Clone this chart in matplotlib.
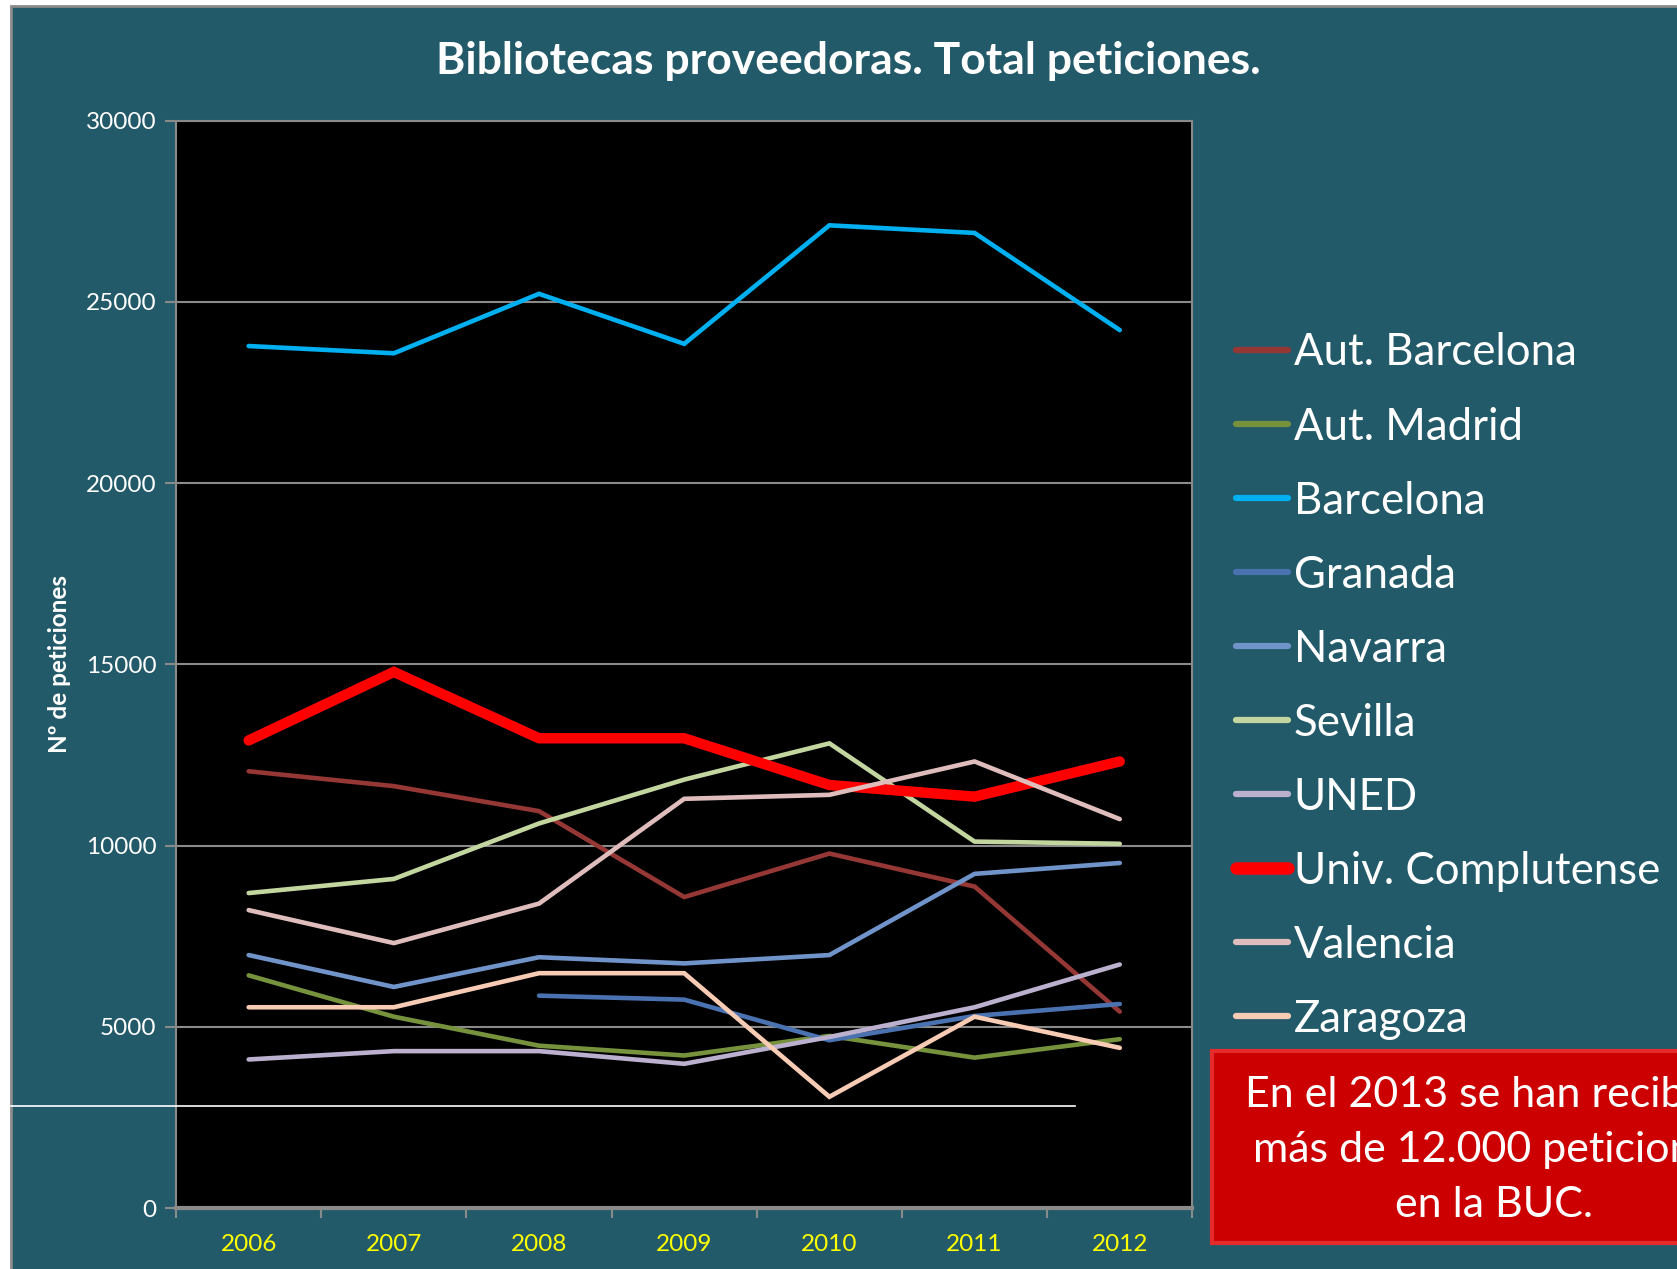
import matplotlib.pyplot as plt
import numpy as np
from matplotlib.patches import Rectangle
from matplotlib.lines import Line2D

plt.rcParams["font.family"] = ["Lato", "DejaVu Sans"]

TEAL = "#235A69"

years = ["2006", "2007", "2008", "2009", "2010", "2011", "2012"]

aut_barcelona = [12050, 11640, 10950, 8580, 9780, 8870, 5420]
aut_madrid = [6420, 5280, 4480, 4210, 4750, 4150, 4660]
barcelona = [23780, 23580, 25220, 23840, 27110, 26900, 24220]
granada = [np.nan, np.nan, 5860, 5750, 4630, 5300, 5630]
navarra = [6980, 6100, 6920, 6750, 6980, 9220, 9520]
sevilla = [8690, 9080, 10610, 11820, 12820, 10110, 10050]
uned = [4100, 4330, 4330, 3980, 4720, 5540, 6720]
complutense = [12900, 14790, 12960, 12960, 11670, 11350, 12320]
valencia = [8220, 7310, 8400, 11290, 11400, 12320, 10730]
zaragoza = [5540, 5540, 6480, 6480, 3070, 5280, 4420]

labels = ["Aut. Barcelona", "Aut. Madrid", "Barcelona", "Granada", "Navarra",
          "Sevilla", "UNED", "Univ. Complutense", "Valencia", "Zaragoza"]
series = [aut_barcelona, aut_madrid, barcelona, granada, navarra,
          sevilla, uned, complutense, valencia, zaragoza]
colors = ["#953735", "#76923C", "#00B0F0", "#4A72B0", "#7093C9",
          "#C4D6A0", "#BCB0CF", "#FF0000", "#E0BDBD", "#F8CBB4"]
widths = [3.3, 3.3, 3.3, 3.3, 3.3, 3.3, 3.3, 7.5, 3.3, 3.3]

fig = plt.figure(figsize=(16.77, 12.69), dpi=100, facecolor="white")

# slide panel behind the chart
fig.patches.append(Rectangle((0.0066, -0.01), 1.0, 1.0053, transform=fig.transFigure,
                             facecolor=TEAL, edgecolor="#8A8A8A", linewidth=2, zorder=-1))

ax = fig.add_axes([0.105, 0.048, 0.606, 0.857])
ax.set_facecolor("black")

x = np.arange(len(years))
for vals, lab, col, lw in zip(series, labels, colors, widths):
    ax.plot(x, vals, color=col, linewidth=lw, solid_capstyle="round",
            solid_joinstyle="miter", label=lab)

ax.set_xlim(-0.5, 6.5)
ax.set_ylim(0, 30000)
ax.set_yticks(np.arange(0, 30001, 5000))
ax.yaxis.grid(True, color="#8A8A8A", linewidth=1.5)
ax.set_axisbelow(True)

ax.set_xticks(np.arange(-0.5, 7, 1))
ax.set_xticklabels([])
ax.set_xticks(x, minor=True)
ax.set_xticklabels(years, minor=True)
ax.tick_params(axis="x", which="major", length=7, width=1.5, color="#8A8A8A")
ax.tick_params(axis="x", which="minor", length=0, pad=19, labelsize=17.5, labelcolor="#FFFF00")
ax.tick_params(axis="y", length=8, width=1.5, color="#8A8A8A", labelsize=17.5,
               labelcolor="white", pad=6)
for s in ax.spines.values():
    s.set_color("#8A8A8A")
    s.set_linewidth(1.5)
ax.spines["bottom"].set_linewidth(3)

ax.set_ylabel("Nº de peticiones", color="white", fontsize=17.5, fontweight="bold")
ax.yaxis.set_label_coords(-0.103, 0.5)

fig.text(0.506, 0.952, "Bibliotecas proveedoras. Total peticiones.", ha="center",
         va="center", color="white", fontsize=32, fontweight="bold")

# stray white line from the slide
fig.add_artist(Line2D([0.0066, 0.641], [0.1285, 0.1285], color="white", linewidth=1.2))

leg_handles = [Line2D([0], [0], color=c, linewidth=(9 if w > 5 else 4.5),
                      solid_capstyle="round") for c, w in zip(colors, widths)]
fig.legend(leg_handles, labels, loc="upper left", bbox_to_anchor=(0.737, 0.738),
           frameon=False, fontsize=31.5, labelcolor="white", handlelength=1.2,
           handletextpad=0.12, labelspacing=0.755, borderpad=0, borderaxespad=0)

fig.patches.append(Rectangle((0.7227, 0.0205), 0.4, 0.1515, transform=fig.transFigure,
                             facecolor="#CC0000", edgecolor="#E52B2B", linewidth=3, zorder=3))
fig.text(0.891, 0.094, "En el 2013 se han recibido\nmás de 12.000 peticiones\nen la BUC.",
         ha="center", va="center", color="white", fontsize=31, linespacing=1.55, zorder=4)

fig.savefig("out.png", dpi=100, facecolor="white")
